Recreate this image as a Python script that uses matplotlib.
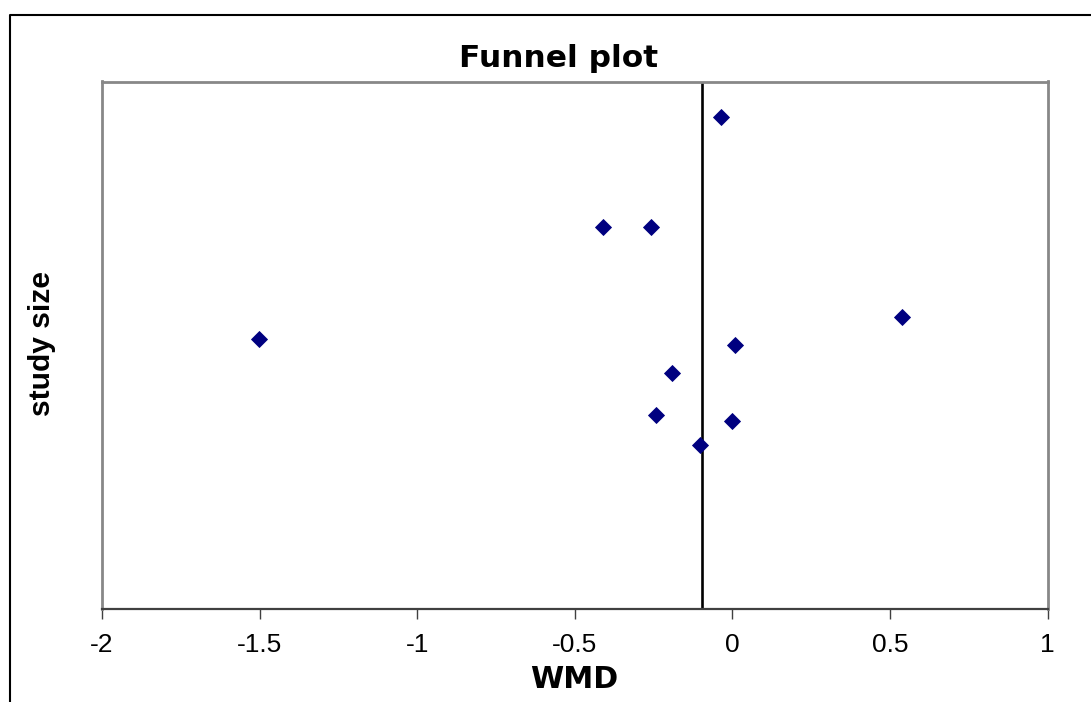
import matplotlib
matplotlib.use("Agg")
import matplotlib.pyplot as plt
from matplotlib.lines import Line2D

# Data
wmd = [-0.036, -0.411, -0.257, 0.537, -1.501, 0.008, -0.190, -0.243, 0.000, -0.103]
study_size = [280.0, 217.1, 217.1, 166.2, 153.6, 150.1, 134.0, 110.3, 106.9, 93.1]
pooled_wmd = -0.096
xticks = [-2, -1.5, -1, -0.5, 0, 0.5, 1]
xticklabels = ["-2", "-1.5", "-1", "-0.5", "0", "0.5", "1"]

W, H = 1091, 702
fig = plt.figure(figsize=(W / 100, H / 100), dpi=100)
left, right, top, bottom = 102, 1047.5, 81.5, 609
ax = fig.add_axes([left / W, 1 - bottom / H, (right - left) / W, (bottom - top) / H])

ax.plot(wmd, study_size, linestyle="none", marker="D", markersize=8.4,
        markerfacecolor="#000080", markeredgecolor="#000080", markeredgewidth=0.6,
        zorder=3)
ax.axvline(pooled_wmd, color="black", lw=1.9, zorder=2)

ax.set_xlim(-2, 1)
ax.set_ylim(0, 300)
ax.set_xticks(xticks)
ax.set_xticklabels(xticklabels, fontsize=19, family="Liberation Sans")
ax.set_yticks([])
ax.tick_params(axis="x", direction="out", length=7, width=1.0, color="#404040", pad=10)

for s in ["top", "left", "right"]:
    ax.spines[s].set_color("#888888")
    ax.spines[s].set_linewidth(2.0)
ax.spines["bottom"].set_color("#404040")
ax.spines["bottom"].set_linewidth(1.6)

fig.text(559 / W, 1 - 67 / H, "Funnel plot", ha="center", va="baseline",
         fontsize=22.5, fontweight="bold", family="DejaVu Sans")
fig.text(574 / W, 1 - 688 / H, "WMD", ha="center", va="baseline",
         fontsize=21.7, fontweight="bold", family="DejaVu Sans")
fig.text(42 / W, 1 - 343 / H, "study size", ha="center", va="center", rotation=90,
         fontsize=21.6, fontweight="bold", family="Liberation Sans")

# outer chart frame (cut off at right and bottom)
fig.add_artist(Line2D([9.5 / W, 9.5 / W, 1.0], [0.0, 1 - 14.5 / H, 1 - 14.5 / H],
                      transform=fig.transFigure, color="black", lw=1.5))

fig.savefig("out.png", dpi=100)
